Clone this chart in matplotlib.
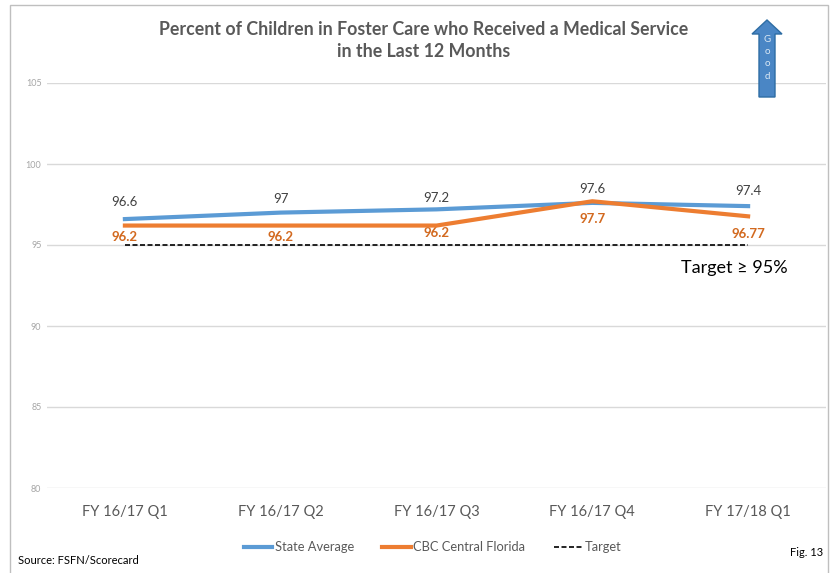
import matplotlib.pyplot as plt
from matplotlib.patches import FancyArrow, Rectangle

# Данные
quarters = ["FY 16/17 Q1", "FY 16/17 Q2", "FY 16/17 Q3", "FY 16/17 Q4", "FY 17/18 Q1"]
state_avg = [96.6, 97, 97.2, 97.6, 97.4]
cbc_cf = [96.2, 96.2, 96.2, 97.7, 96.77]
cbc_labels = ["96.2", "96.2", "96.2", "97.7", "96.77"]
target = [95, 95, 95, 95, 95]
yticks = [80, 85, 90, 95, 100, 105]

# сдвиг подписей (как в оригинале)
state_offsets = [1.05, 0.86, 0.72, 0.86, 0.93]
cbc_offsets = [-0.68, -0.68, -0.43, -1.1, -1.1]

plt.rcParams['font.family'] = ['Lato', 'DejaVu Sans']

fig = plt.figure(figsize=(8.35, 5.73), dpi=100)
ax = fig.add_axes([47 / 835, 1 - 488 / 573, 779 / 835, 405 / 573])

x = range(len(quarters))
ax.plot(x, state_avg, color='#5b9bd5', lw=3, label='State Average', zorder=3)
ax.plot(x, cbc_cf, color='#ed7d31', lw=3, label='CBC Central Florida', zorder=4)
ax.plot(x, target, color='black', lw=1.2, ls=(0, (3, 1.5)), label='Target', zorder=2)

for i, v in enumerate(state_avg):
    ax.text(i, v + state_offsets[i], f"{v:g}", ha='center', va='center', fontsize=9.5, color='#404040')
for i, v in enumerate(cbc_cf):
    ax.text(i, v + cbc_offsets[i], cbc_labels[i], ha='center', va='center', fontsize=9.5,
            color='#d2691f', fontweight='bold')

ax.text(3.91, 93.6, "Target ≥ 95%", ha='center', va='center', fontsize=13, color='black')

ax.set_xlim(-0.5, 4.5)
ax.set_ylim(80, 105)
ax.set_yticks(yticks)
ax.set_xticks(list(x))
ax.set_xticklabels(quarters, fontsize=10.5, color='#595959')
ax.tick_params(axis='y', labelsize=6.5, labelcolor='#a6a6a6', length=0, pad=4)
ax.tick_params(axis='x', length=0, pad=12)
ax.grid(axis='y', color='#d9d9d9', lw=1)
ax.set_axisbelow(True)
for s in ax.spines.values():
    s.set_visible(False)

fig.text(0.507, 0.963, "Percent of Children in Foster Care who Received a Medical Service\nin the Last 12 Months",
         ha='center', va='top', fontsize=12.8, fontweight='bold', color='#595959', linespacing=1.35)

fig.legend(loc='center', bbox_to_anchor=(0.518, 0.045), ncol=3, frameon=False, fontsize=9.3,
           handlelength=2.2, handletextpad=0.2, columnspacing=2.2, labelcolor='#595959')

# стрелка "Good"
arrow = FancyArrow(767 / 835, 1 - 97 / 573, 0, 77 / 573, width=16 / 835, head_width=30 / 835,
                   head_length=14 / 573, length_includes_head=True, transform=fig.transFigure,
                   color='#4a86c5', ec='#2e6da4', zorder=5)
fig.add_artist(arrow)
for k, ch in enumerate("Good"):
    fig.text(767 / 835, 1 - (40 + k * 12) / 573, ch, ha='center', va='center', fontsize=7,
             color='#dce9f5', zorder=6)

fig.add_artist(Rectangle((10 / 835, -0.01), 818 / 835, 1 - 5 / 573 + 0.01, transform=fig.transFigure,
                         fill=False, ec='#bfbfbf', lw=1))

fig.text(18 / 835, 1 - 561 / 573, "Source: FSFN/Scorecard", fontsize=8, color='black', va='center')
fig.text(790 / 835, 1 - 552 / 573, "Fig. 13", fontsize=8, color='black', va='center')

fig.savefig("out.png", dpi=100)
